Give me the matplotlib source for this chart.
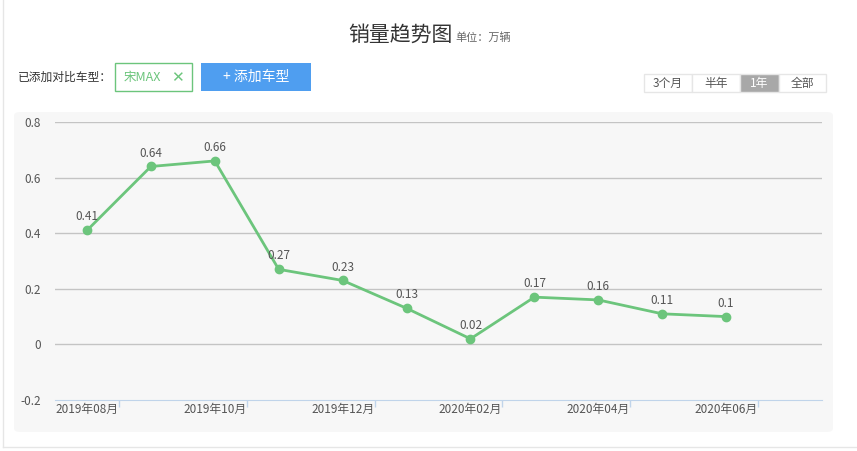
import numpy as np
import matplotlib.pyplot as plt
from matplotlib.patches import FancyBboxPatch, Rectangle

plt.rcParams['font.family'] = ['Noto Sans CJK SC', 'DejaVu Sans']

# data
months = ["2019年08月", "2019年09月", "2019年10月", "2019年11月", "2019年12月", "2020年01月",
          "2020年02月", "2020年03月", "2020年04月", "2020年05月", "2020年06月", "2020年07月"]
sales = [0.41, 0.64, 0.66, 0.27, 0.23, 0.13, 0.02, 0.17, 0.16, 0.11, 0.1]
value_labels = ["0.41", "0.64", "0.66", "0.27", "0.23", "0.13", "0.02", "0.17", "0.16", "0.11", "0.1"]
yticks = [-0.2, 0, 0.2, 0.4, 0.6, 0.8]
ranges = ["3个月", "半年", "1年", "全部"]

W, H = 857, 451
fig = plt.figure(figsize=(W / 100, H / 100), dpi=100)
fig.patch.set_facecolor("white")

def fx(px):
    return px / W

def fy(py):
    return 1 - py / H

# outer frame lines
fig.add_artist(plt.Line2D([fx(3), fx(3)], [fy(0), fy(447)], color="#e6e6e6", lw=1))
fig.add_artist(plt.Line2D([fx(3), fx(857)], [fy(447), fy(447)], color="#e6e6e6", lw=1))

# gray chart panel
panel = FancyBboxPatch((fx(14), fy(432)), fx(833) - fx(14), fy(112) - fy(432),
                       boxstyle="round,pad=0,rounding_size=0.008", transform=fig.transFigure,
                       facecolor="#f7f7f7", edgecolor="none", zorder=0)
fig.add_artist(panel)

# header
fig.text(fx(400), fy(35), "销量趋势图", fontsize=15, color="#333333", ha="center", va="center")
fig.text(fx(455), fy(38), "单位：万辆", fontsize=8, color="#666666", ha="left", va="center")
fig.text(fx(18), fy(77), "已添加对比车型：", fontsize=8.5, color="#333333", ha="left", va="center")

fig.add_artist(Rectangle((fx(115), fy(91)), fx(192) - fx(115), fy(63) - fy(91), transform=fig.transFigure,
                         facecolor="white", edgecolor="#6cc57c", lw=1))
fig.text(fx(124), fy(77), "宋MAX", fontsize=9, color="#6cc57c", ha="left", va="center")
fig.text(fx(177), fy(77), "✕", fontsize=11, color="#6cc57c", ha="center", va="center", fontweight="bold")

fig.add_artist(Rectangle((fx(201), fy(91)), fx(311) - fx(201), fy(63) - fy(91), transform=fig.transFigure,
                         facecolor="#4f9ef0", edgecolor="none"))
fig.text(fx(256), fy(77), "+ 添加车型", fontsize=10, color="white", ha="center", va="center")

edges = [644, 692, 740, 779, 826]
for i, r in enumerate(ranges):
    active = r == "1年"
    fig.add_artist(Rectangle((fx(edges[i]), fy(92)), fx(edges[i + 1]) - fx(edges[i]), fy(74) - fy(92),
                             transform=fig.transFigure, facecolor="#a8a8a8" if active else "white",
                             edgecolor="#e6e6e6", lw=1))
    fig.text(fx((edges[i] + edges[i + 1]) / 2), fy(83), r, fontsize=8.5,
             color="white" if active else "#555555", ha="center", va="center")

# chart
ax = fig.add_axes([fx(55), fy(400), fx(822) - fx(55), fy(122) - fy(400)])
ax.set_facecolor("none")
x = np.arange(len(sales))
ax.plot(x, sales, color="#6cc57c", lw=2, marker="o", markersize=6, zorder=3)
for xi, v, lab in zip(x, sales, value_labels):
    ax.text(xi, v + 0.025, lab, ha="center", va="bottom", fontsize=8.5, color="#555555")

ax.set_xlim(-0.5, len(months) - 0.5)
ax.set_ylim(-0.2, 0.8)
ax.set_yticks(yticks)
ax.set_yticklabels(["-0.2", "0", "0.2", "0.4", "0.6", "0.8"])
for y in yticks[1:]:
    ax.axhline(y, color="#c4c4c4", lw=1, zorder=1)

ax.set_xticks(np.arange(0, len(months), 2))
ax.set_xticklabels(months[::2])
ax.set_xticks(np.arange(0, len(months), 2) + 0.5, minor=True)
ax.tick_params(axis="x", which="major", length=0, labelsize=8.5, labelcolor="#555555", pad=2)
ax.tick_params(axis="x", which="minor", length=5, color="#c0d4ea", width=1)
ax.tick_params(axis="y", length=0, labelsize=8.5, labelcolor="#555555", pad=10)

for s in ["top", "right", "left"]:
    ax.spines[s].set_visible(False)
ax.spines["bottom"].set_color("#c0d4ea")

fig.savefig("out.png", dpi=100)
